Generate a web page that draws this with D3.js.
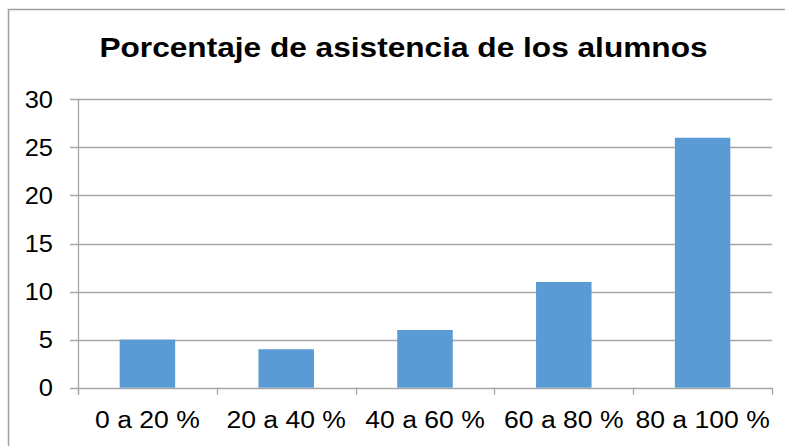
<!DOCTYPE html>
<html>
<head>
<meta charset="utf-8">
<script src="https://cdn.jsdelivr.net/npm/d3@7"></script>
<style>
  html, body { margin: 0; padding: 0; background: #fff; }
  svg { display: block; font-family: "Liberation Sans", Arial, sans-serif; }
</style>
</head>
<body>
<div id="chart"></div>
<script>
(function () {
  'use strict';

  // Data
  var categories = ['0 a 20 %', '20 a 40 %', '40 a 60 %', '60 a 80 %', '80 a 100 %'];
  var values = [5, 4, 6, 11, 26];
  var yTicks = [0, 5, 10, 15, 20, 25, 30];
  var title = 'Porcentaje de asistencia de los alumnos';

  var width = 785, height = 446;
  var plot = { left: 78, right: 772, top: 99.3, bottom: 387.7 };

  var barColor = '#5b9bd5';
  var gridColor = '#a6a6a6';

  // The source picture is a bit stretched sideways, so text is widened to match
  var textStretch = 1.13;

  var svg = d3.select('#chart').append('svg')
    .attr('width', width)
    .attr('height', height);

  // Chart frame (runs off the right and bottom of the picture)
  svg.append('rect')
    .attr('x', 8.5).attr('y', 9.5)
    .attr('width', 820).attr('height', 460)
    .attr('fill', '#fff')
    .attr('stroke', '#a0a0a0')
    .attr('stroke-width', 1.5);

  var x = d3.scaleBand()
    .domain(categories)
    .range([plot.left, plot.right])
    .paddingInner(0.6)
    .paddingOuter(0.3);

  var y = d3.scaleLinear()
    .domain([0, 30])
    .range([plot.bottom, plot.top]);

  // Horizontal gridlines with left tick stubs
  svg.append('g')
    .selectAll('line')
    .data(yTicks)
    .join('line')
    .attr('x1', plot.left - 8)
    .attr('x2', plot.right)
    .attr('y1', function (d) { return Math.round(y(d)) + 0.5; })
    .attr('y2', function (d) { return Math.round(y(d)) + 0.5; })
    .attr('stroke', gridColor)
    .attr('stroke-width', 1.3);

  // Y axis line
  svg.append('line')
    .attr('x1', plot.left + 0.5).attr('x2', plot.left + 0.5)
    .attr('y1', plot.top).attr('y2', plot.bottom + 7)
    .attr('stroke', gridColor)
    .attr('stroke-width', 1.3);

  // Bars
  svg.append('g')
    .selectAll('rect')
    .data(values)
    .join('rect')
    .attr('x', function (d, i) { return x(categories[i]); })
    .attr('width', x.bandwidth())
    .attr('y', function (d) { return y(d); })
    .attr('height', function (d) { return y(0) - y(d); })
    .attr('fill', barColor);

  // Category boundary ticks below the x axis
  var step = x.step();
  svg.append('g')
    .selectAll('line')
    .data(d3.range(categories.length + 1))
    .join('line')
    .attr('x1', function (i) { return Math.round(plot.left + i * step) + 0.5; })
    .attr('x2', function (i) { return Math.round(plot.left + i * step) + 0.5; })
    .attr('y1', plot.bottom)
    .attr('y2', plot.bottom + 7)
    .attr('stroke', gridColor)
    .attr('stroke-width', 1.3);

  // Y tick labels
  svg.append('g')
    .selectAll('text')
    .data(yTicks)
    .join('text')
    .attr('transform', function (d) {
      return 'translate(53,' + y(d) + ') scale(1.06,1)';
    })
    .attr('dy', '0.36em')
    .attr('text-anchor', 'end')
    .attr('font-size', '24px')
    .attr('fill', '#000')
    .text(function (d) { return d; });

  // X tick labels
  svg.append('g')
    .selectAll('text')
    .data(categories)
    .join('text')
    .attr('transform', function (d) {
      return 'translate(' + (x(d) + x.bandwidth() / 2) + ',428) scale(' + textStretch + ',1)';
    })
    .attr('text-anchor', 'middle')
    .attr('font-size', '23.5px')
    .attr('fill', '#000')
    .text(function (d) { return d; });

  // Title
  svg.append('text')
    .attr('transform', 'translate(403.5,57) scale(' + textStretch + ',1)')
    .attr('text-anchor', 'middle')
    .attr('font-size', '28px')
    .attr('font-weight', 'bold')
    .attr('fill', '#000')
    .text(title);
})();
</script>
</body>
</html>
